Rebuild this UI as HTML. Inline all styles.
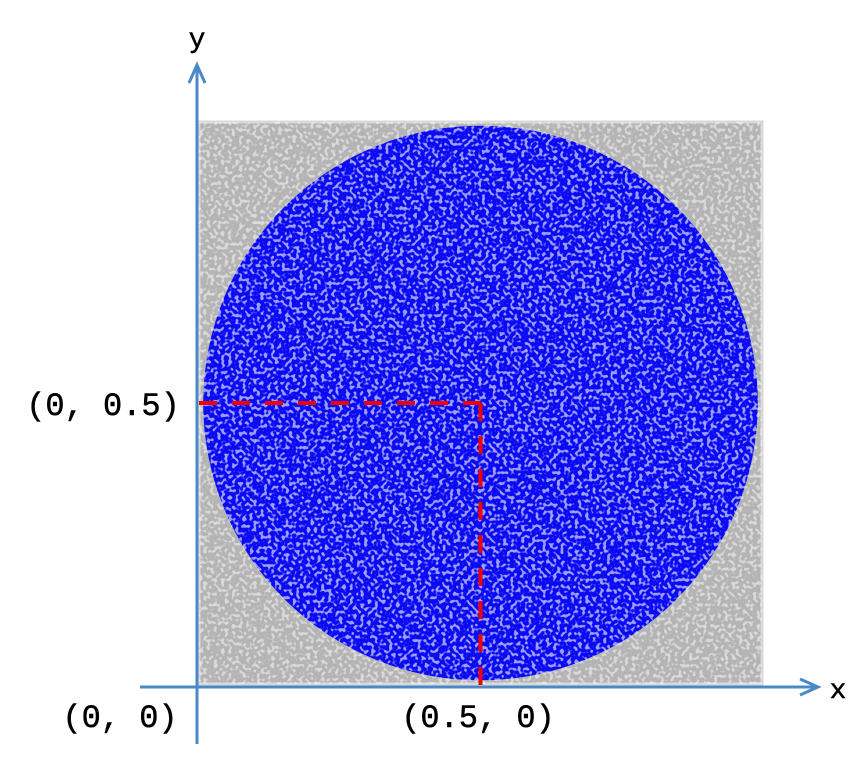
<!DOCTYPE html>
<html><head><meta charset="utf-8"><style>
html,body{margin:0;padding:0;background:#fff;width:868px;height:760px;overflow:hidden}
text{font-family:"Liberation Mono",monospace;font-size:32px;fill:#000;stroke:#000;stroke-width:0.5}
</style></head><body>
<svg id="chart" width="868" height="760">
<defs>
<filter id="speck" x="0" y="0" width="100%" height="100%">
<feTurbulence type="fractalNoise" baseFrequency="0.28" numOctaves="1" seed="3" result="n"/>
<feColorMatrix in="n" type="matrix" values="0 0 0 0 1  0 0 0 0 1  0 0 0 0 1  0 0 0 -9 4.4"/>
</filter>
<clipPath id="cc"><circle id="clipc" cx="0" cy="0" r="0"/></clipPath>
</defs>
<g id="marks"></g>
</svg>
<script>
const domain=[0,1];
const center=[0.5,0.5];
const radius=[0.5];
const tickLabels=["(0, 0)","(0.5, 0)","(0, 0.5)"];
const axisNames=["x","y"];
const X=v=>199+v*563, Y=v=>684-v*562;
const NS="http://www.w3.org/2000/svg";
const g=document.getElementById('marks');
function mk(t,a,parent){const e=document.createElementNS(NS,t);for(const k in a)e.setAttribute(k,a[k]);(parent||g).appendChild(e);return e;}
let sq=mk('rect',{x:X(domain[0]),y:Y(domain[1]),width:X(domain[1])-X(domain[0]),height:Y(domain[0])-Y(domain[1]),fill:'#b4b4b4',stroke:'#d8d8d8','stroke-width':3});


let sqn=mk('rect',{x:X(domain[0]),y:Y(domain[1]),width:X(domain[1])-X(domain[0]),height:Y(domain[0])-Y(domain[1]),filter:'url(#speck)',opacity:0.5});


const cx=X(center[0]),cy=Y(center[1]),r=(X(radius[0])-X(0))*0.985;
const cl=document.getElementById('clipc');cl.setAttribute('cx',cx);cl.setAttribute('cy',cy);cl.setAttribute('r',r);
let c=mk('circle',{cx:cx,cy:cy,r:r,fill:'#0a0af4'});


let cn=mk('rect',{x:cx-r,y:cy-r,width:2*r,height:2*r,filter:'url(#speck)','clip-path':'url(#cc)',opacity:0.6});


let h=mk('line',{x1:X(0),y1:cy,x2:cx,y2:cy,stroke:'#f00000','stroke-width':4,'stroke-dasharray':'18 15'});


let v=mk('line',{x1:cx,y1:cy,x2:cx,y2:Y(0)+3,stroke:'#f00000','stroke-width':4,'stroke-dasharray':'18 15'});


const ac='#4a88c8';
let xa=mk('line',{x1:140,y1:687,x2:815,y2:687,stroke:ac,'stroke-width':3});


let xh=mk('path',{d:'M800 679 L818 687 L800 695',fill:'none',stroke:ac,'stroke-width':3});


let ya=mk('line',{x1:197,y1:68,x2:197,y2:744,stroke:ac,'stroke-width':3});


let yh=mk('path',{d:'M189 83 L197 65 L205 83',fill:'none',stroke:ac,'stroke-width':3});


function txt(s,x,y,anchor,name,fs){const t=mk('text',{x:x,y:y,'text-anchor':anchor});if(fs)t.setAttribute('style','font-size:'+fs+'px');t.textContent=s;return t;}
txt(tickLabels[0],120,727,'middle','origin-label');
txt(tickLabels[1],478,727,'middle','x-half-label');
txt(tickLabels[2],103,415,'middle','y-half-label');
txt(axisNames[0],838,698,'middle','x-axis-title',28);
txt(axisNames[1],197,47,'middle','y-axis-title',28);
</script>
</body></html>
